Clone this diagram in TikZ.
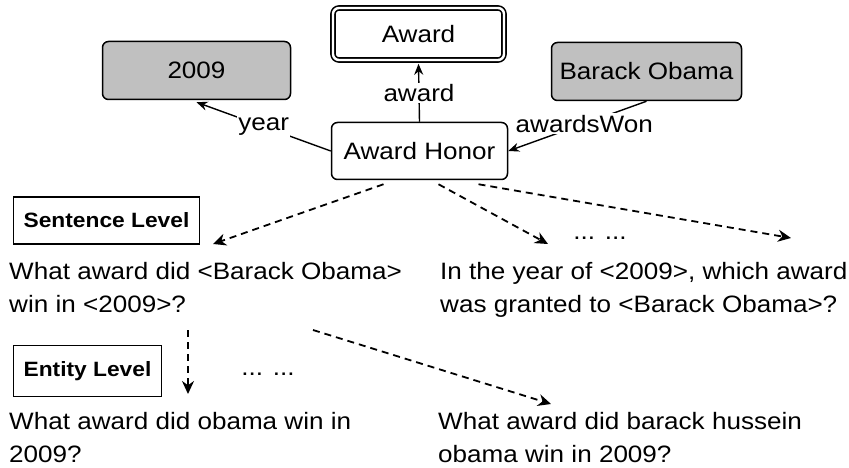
\documentclass[tikz,border=0pt]{standalone}
\usepackage{fontspec}
\setmainfont{Liberation Sans}[FakeStretch=1.1]
\usetikzlibrary{arrows.meta}
\definecolor{boxgray}{HTML}{C0C0C0}
\begin{document}
\begin{tikzpicture}[x=1pt,y=-1pt,
  every node/.style={font=\fontsize{23.7}{33}\selectfont},
  entbox/.style={draw, line width=1.5pt, rounded corners=6pt, inner sep=0pt},
  lvlbox/.style={draw, line width=1.8pt, inner sep=0pt, font=\bfseries\fontsize{20.7}{25}\selectfont},
  rel/.style={line width=1.4pt, -{Stealth[length=11pt,width=9pt]}},
  lbl/.style={fill=white, inner sep=1.5pt},
  dasharrow/.style={line width=1.8pt, dash pattern=on 7pt off 5pt, -{Stealth[length=13pt,width=12pt]}},
  qtext/.style={anchor=base west, align=left, inner sep=0pt}
]
\useasboundingbox (0,0) rectangle (849,468);

% entity nodes
\node[entbox, fill=boxgray, minimum width=188pt, minimum height=58pt] (y2009) at (196.5,70.5) {2009};
\node[entbox, fill=boxgray, minimum width=190pt, minimum height=58pt] (barack) at (646.5,71.5) {Barack Obama};
\node[draw, line width=1.6pt, double=white, double distance=2.4pt, rounded corners=6pt, inner sep=0pt,
      minimum width=171pt, minimum height=52pt] (award) at (418.5,34) {Award};
\node[entbox, fill=white, minimum width=176pt, minimum height=57pt] (honor) at (419.5,151) {Award Honor};

% relations
\draw[rel] (honor.north) -- node[lbl] {award} ([yshift=-3pt]award.south);
\draw[rel] (honor.west) -- node[lbl] {year} ([yshift=-2pt]y2009.south);
\draw[rel] (barack.south) -- node[lbl, pos=0.45] {awardsWon} (honor.east);

% level boxes
\node[lvlbox, minimum width=186pt, minimum height=47pt] (slevel) at (106.5,220.5) {Sentence Level};
\node[lvlbox, minimum width=148pt, minimum height=51pt] (elevel) at (87.5,371) {Entity Level};

% sentence-level questions (base = baseline of last line)
\node[qtext] (s1) at (9,312) {What award did <Barack Obama>\\win in <2009>?};
\node[qtext] (s2) at (440,312) {In the year of <2009>, which award\\was granted to <Barack Obama>?};
\node (sdots) at (600,238) {... ...};

% entity-level questions
\node[qtext] (e1) at (9,462) {What award did obama win in\\2009?};
\node[qtext] (e2) at (438,462) {What award did barack hussein\\obama win in 2009?};
\node (edots) at (268,374) {... ...};

% dashed arrows
\coordinate (t1) at (213,244);
\coordinate (t2) at (548,244);
\coordinate (t3) at (791,238);
\coordinate (a4s) at (188,330);
\coordinate (t4) at (188,394);
\coordinate (a5s) at (313,330);
\coordinate (t5) at (551,404);
\draw[dasharrow] ([xshift=-36pt,yshift=-4pt]honor.south) -- (t1);
\draw[dasharrow] ([xshift=19pt,yshift=-4pt]honor.south) -- (t2);
\draw[dasharrow] ([xshift=59pt,yshift=-4pt]honor.south) -- (t3);
\draw[dasharrow] (a4s) -- (t4);
\draw[dasharrow] (a5s) -- (t5);
\end{tikzpicture}
\end{document}
